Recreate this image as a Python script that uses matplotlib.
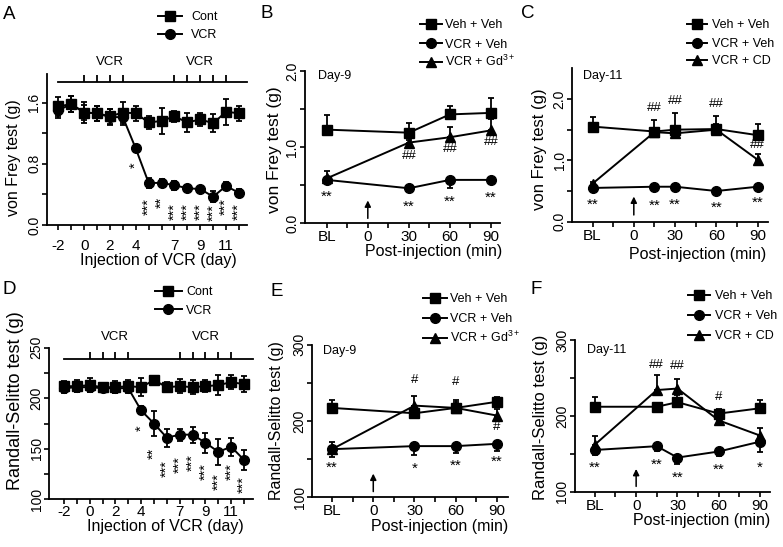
import matplotlib
matplotlib.use('Agg')
import matplotlib.pyplot as plt
from matplotlib.lines import Line2D

plt.rcParams['font.family'] = ['Liberation Sans', 'DejaVu Sans']
plt.rcParams['mathtext.fontset'] = 'custom'
plt.rcParams['mathtext.rm'] = 'Liberation Sans'
plt.rcParams['mathtext.it'] = 'Liberation Sans:italic'
plt.rcParams['mathtext.bf'] = 'Liberation Sans:bold'

# ---------------- data ----------------
days = [-2, -1, 0, 1, 2, 3, 4, 5, 6, 7, 8, 9, 10, 11, 12]
day_tick_labels = {-2: '-2', 0: '0', 2: '2', 4: '4', 7: '7', 9: '9', 11: '11'}
vcr_inject_days = [0, 1, 2, 3, 7, 8, 9, 10, 11]

a_cont = [1.55, 1.58, 1.47, 1.46, 1.42, 1.47, 1.46, 1.34, 1.36, 1.42, 1.34, 1.38, 1.33, 1.48, 1.46]
a_cont_err = [0.12, 0.10, 0.14, 0.10, 0.10, 0.14, 0.10, 0.08, 0.17, 0.07, 0.12, 0.08, 0.12, 0.17, 0.10]
a_vcr = [1.50, 1.58, 1.47, 1.46, 1.41, 1.41, 1.00, 0.55, 0.55, 0.52, 0.48, 0.47, 0.37, 0.51, 0.42]
a_vcr_err = [0.10, 0.10, 0.10, 0.10, 0.10, 0.10, 0.05, 0.06, 0.05, 0.06, 0.04, 0.03, 0.07, 0.05, 0.05]
a_stars = ['', '', '', '', '', '', '*', '***', '**', '***', '***', '***', '***', '***', '***']
a_star_y = [0, 0, 0, 0, 0, 0, 0.78, 0.24, 0.30, 0.17, 0.17, 0.17, 0.16, 0.24, 0.17]

d_cont = [212, 212, 213, 211, 211, 212, 211, 218, 211, 212, 211, 212, 213, 216, 214]
d_cont_err = [5, 6, 7, 4, 6, 6, 9, 4, 5, 7, 7, 6, 10, 7, 8]
d_vcr = [210, 211, 211, 210, 210, 210, 188, 175, 161, 164, 164, 156, 147, 152, 139]
d_vcr_err = [5, 5, 5, 4, 5, 5, 4, 12, 9, 6, 8, 10, 13, 9, 10]
d_stars = ['', '', '', '', '', '', '*', '**', '***', '***', '***', '***', '***', '***', '***']
d_star_y = [0, 0, 0, 0, 0, 0, 170, 145, 130, 134, 136, 127, 118, 127, 115]

time_ticks = [-30, 0, 30, 60, 90]
time_tick_labels = ['BL', '0', '30', '60', '90']

b_time = [-30, 30, 60, 90]
b_veh = [1.23, 1.19, 1.43, 1.45]
b_veh_err = [0.19, 0.13, 0.11, 0.20]
b_vcr = [0.57, 0.46, 0.57, 0.57]
b_vcr_err = [0.03, 0.02, 0.10, 0.02]
b_gd = [0.59, 1.06, 1.13, 1.22]
b_gd_err = [0.10, 0.04, 0.13, 0.15]
b_stars = ['**', '**', '**', '**']
b_star_y = [0.35, 0.22, 0.28, 0.33]
b_hash_time = [30, 60, 90]
b_hash = ['##', '##', '##']
b_hash_y = [0.89, 0.97, 1.07]

c_time = [-30, 15, 30, 60, 90]
c_veh = [1.55, 1.47, 1.50, 1.51, 1.41]
c_veh_err = [0.16, 0.18, 0.27, 0.22, 0.19]
c_vcr = [0.55, 0.57, 0.57, 0.50, 0.57]
c_vcr_err = [0.02, 0.02, 0.02, 0.02, 0.02]
c_cd = [0.62, 1.46, 1.44, 1.50, 1.01]
c_cd_err = [0.03, 0.05, 0.05, 0.10, 0.10]
c_stars = ['**', '**', '**', '**', '**']
c_star_y = [0.27, 0.26, 0.27, 0.22, 0.31]
c_hash_time = [15, 30, 60, 90]
c_hash = ['##', '##', '##', '##']
c_hash_y = [1.85, 1.96, 1.92, 1.25]

e_time = [-30, 30, 60, 90]
e_veh = [217, 210, 217, 225]
e_veh_err = [11, 10, 10, 6]
e_vcr = [163, 167, 167, 170]
e_vcr_err = [10, 12, 9, 9]
e_gd = [163, 220, 217, 207]
e_gd_err = [10, 12, 8, 9]
e_stars = ['**', '*', '**', '**']
e_star_y = [138, 137, 141, 147]
e_hash_time = [30, 60, 90]
e_hash = ['#', '#', '#']
e_hash_y = [254, 251, 192]

f_time = [-30, 15, 30, 60, 90]
f_veh = [212, 212, 218, 203, 210]
f_veh_err = [13, 5, 10, 6, 11]
f_vcr = [155, 160, 145, 153, 166]
f_vcr_err = [6, 6, 9, 6, 14]
f_cd = [162, 234, 236, 194, 174]
f_cd_err = [11, 20, 12, 5, 10]
f_stars = ['**', '**', '**', '**', '*']
f_star_y = [131, 135, 119, 129, 132]
f_hash_time = [15, 30, 60]
f_hash = ['##', '##', '#']
f_hash_y = [267, 266, 225]

# ---------------- figure ----------------
W, H = 783, 547
fig = plt.figure(figsize=(W / 100, H / 100), dpi=100)
K = 'black'


def add_ax(l, r, t, b):
    return fig.add_axes([l / W, 1 - b / H, (r - l) / W, (b - t) / H])


def fx(x):
    return x / W


def fy(y):
    return 1 - y / H


def ftext(x, y, s, **kw):
    fig.text(fx(x), fy(y), s, **kw)


def style(ax, yticks, ylabels, xticks, xlabels, xpad=1.5):
    for s in ['top', 'right']:
        ax.spines[s].set_visible(False)
    for s in ['left', 'bottom']:
        ax.spines[s].set_linewidth(1.3)
    ax.tick_params(direction='out', length=3.5, width=1.2)
    ax.tick_params(axis='x', labelsize=11, pad=xpad)
    ax.tick_params(axis='y', labelsize=10, pad=0.5)
    ax.set_yticks(yticks)
    ax.set_yticklabels(ylabels, rotation=90, va='center')
    ax.set_xticks(xticks)
    ax.set_xticklabels(xlabels)


def series(ax, x, y, err, marker, ms, lower=True, upper=True):
    lo = [e if lower else 0 for e in err]
    up = [e if upper else 0 for e in err]
    ax.errorbar(x, y, yerr=[lo, up], color=K, marker=marker, ms=ms, lw=1.4,
                elinewidth=1.3, capsize=2.5, capthick=1.3, zorder=3, clip_on=False)


def legend(x0, x1, xt, rows, markers, labels):
    for y, m, lab in zip(rows, markers, labels):
        fig.add_artist(Line2D([fx(x0), fx(x1)], [fy(y), fy(y)], color=K, lw=1.4,
                              transform=fig.transFigure))
        fig.add_artist(Line2D([fx((x0 + x1) / 2)], [fy(y)], color=K, marker=m, lw=0,
                              ms=7 if m != '^' else 7.5, transform=fig.transFigure))
        ftext(xt, y + 4.2, lab, ha='left', va='baseline', fontsize=9)


def arrow(ax, base, tip):
    ax.annotate('', xy=(0, tip), xytext=(0, base),
                arrowprops=dict(arrowstyle='-|>', color=K, lw=1.1, mutation_scale=9,
                                shrinkA=0, shrinkB=0))


def marks(ax, xs, ys, labels, size, rot=0):
    for x, y, s in zip(xs, ys, labels):
        if s:
            ax.text(x, y, s, ha='center', va='center', fontsize=size, rotation=rot, clip_on=False)


all_time_ticks = [-30, -15, 0, 15, 30, 45, 60, 75, 90]
all_time_labels = [dict(zip(time_ticks, time_tick_labels)).get(t, '') for t in all_time_ticks]
day_labels = [day_tick_labels.get(d, '') for d in days]

# ---------------- Panel A ----------------
axA = add_ax(46.7, 247, 73.5, 225)
series(axA, days, a_cont, a_cont_err, 's', 7)
series(axA, days, a_vcr, a_vcr_err, 'o', 7)
axA.set_xlim(-2.9, 12.62)
axA.set_ylim(0, 1.98)
style(axA, [0, 0.4, 0.8, 1.2, 1.6], ['0.0', '', '0.8', '', '1.6'], days, day_labels, xpad=6.5)
marks(axA, days, a_star_y, a_stars, 10.5, rot=90)
axA.plot([-2, 12.62], [1.87, 1.87], color=K, lw=1.3, clip_on=False)
axA.vlines(vcr_inject_days, 1.87, 1.96, color=K, lw=1.3, clip_on=False)
axA.text(2, 2.13, 'VCR', ha='center', va='center', fontsize=9.5, clip_on=False)
axA.text(9, 2.13, 'VCR', ha='center', va='center', fontsize=9.5, clip_on=False)
ftext(158.5, 261, 'Injection of VCR (day)', ha='center', va='center', fontsize=11.5)
ftext(14, 157.5, 'von Frey test (g)', ha='center', va='center', rotation=90, fontsize=11.5)
legend(158, 182, 191, [16, 34], ['s', 'o'], ['Cont', 'VCR'])

# ---------------- Panel B ----------------
axB = add_ax(305, 500, 71, 223.3)
series(axB, b_time, b_veh, b_veh_err, 's', 7, lower=False)
series(axB, b_time, b_vcr, b_vcr_err, 'o', 7, upper=False)
series(axB, b_time, b_gd, b_gd_err, '^', 7.5, lower=False)
axB.set_xlim(-45.9, 96.6)
axB.set_ylim(0, 2.0)
style(axB, [0, 0.5, 1.0, 1.5, 2.0], ['0.0', '', '1.0', '', '2.0'], all_time_ticks, all_time_labels)
marks(axB, b_time, b_star_y, b_stars, 11)
marks(axB, b_hash_time, b_hash_y, b_hash, 9.5)
arrow(axB, 0.065, 0.30)
ftext(318, 76, 'Day-9', ha='left', va='center', fontsize=9)
ftext(434, 251, 'Post-injection (min)', ha='center', va='center', fontsize=11.5)
ftext(274.3, 150, 'von Frey test (g)', ha='center', va='center', rotation=90, fontsize=12.5)
legend(420, 442, 445, [24, 43.3, 61.7], ['s', 'o', '^'], ['Veh + Veh', 'VCR + Veh', r'VCR + Gd$^{3+}$'])

# ---------------- Panel C ----------------
axC = add_ax(572.3, 768, 68.3, 221.7)
series(axC, c_time, c_veh, c_veh_err, 's', 7, lower=False)
series(axC, c_time, c_vcr, c_vcr_err, 'o', 7, upper=False)
series(axC, c_time, c_cd, c_cd_err, '^', 7.5, lower=False)
axC.set_xlim(-44.7, 97.5)
axC.set_ylim(0, 2.5)
style(axC, [0, 0.5, 1.0, 1.5, 2.0], ['0.0', '', '1.0', '', '2.0'], all_time_ticks, all_time_labels)
marks(axC, c_time, c_star_y, c_stars, 11)
marks(axC, c_hash_time, c_hash_y, c_hash, 9.5)
arrow(axC, 0.11, 0.41)
ftext(583, 76, 'Day-11', ha='left', va='center', fontsize=9)
ftext(698, 254.5, 'Post-injection (min)', ha='center', va='center', fontsize=11.5)
ftext(539.5, 149, 'von Frey test (g)', ha='center', va='center', rotation=90, fontsize=12)
legend(686.7, 706.7, 711.7, [24, 42.7, 60], ['s', 'o', '^'], ['Veh + Veh', 'VCR + Veh', 'VCR + CD'])

# ---------------- Panel D ----------------
axD = add_ax(49.3, 253.3, 347.8, 499.3)
series(axD, days, d_cont, d_cont_err, 's', 7)
series(axD, days, d_vcr, d_vcr_err, 'o', 7)
axD.set_xlim(-3.14, 12.72)
axD.set_ylim(100, 250)
style(axD, [100, 125, 150, 175, 200, 225, 250], ['100', '', '150', '', '200', '', '250'], days, day_labels, xpad=0.5)
marks(axD, days, d_star_y, d_stars, 10.5, rot=90)
axD.plot([-2, 12.72], [239, 239], color=K, lw=1.3, clip_on=False)
axD.vlines(vcr_inject_days, 239, 246, color=K, lw=1.3, clip_on=False)
axD.text(2, 261, 'VCR', ha='center', va='center', fontsize=9.5, clip_on=False)
axD.text(9, 261, 'VCR', ha='center', va='center', fontsize=9.5, clip_on=False)
ftext(165.5, 526, 'Injection of VCR (day)', ha='center', va='center', fontsize=11.5)
ftext(15.5, 401, 'Randall-Selitto test (g)', ha='center', va='center', rotation=90, fontsize=13)
legend(155, 181.7, 186, [290.7, 309.3], ['s', 'o'], ['Cont', 'VCR'])

# ---------------- Panel E ----------------
axE = add_ax(312.3, 508, 344.5, 497.3)
series(axE, e_time, e_veh, e_veh_err, 's', 7, lower=False)
series(axE, e_time, e_vcr, e_vcr_err, 'o', 7, upper=False)
series(axE, e_time, e_gd, e_gd_err, '^', 7.5, lower=False)
axE.set_xlim(-44.4, 98.1)
axE.set_ylim(100, 300)
style(axE, [100, 150, 200, 250, 300], ['100', '', '200', '', '300'], all_time_ticks, all_time_labels)
marks(axE, e_time, e_star_y, e_stars, 11)
marks(axE, e_hash_time, e_hash_y, e_hash, 9.5)
arrow(axE, 107.5, 131)
ftext(323, 351, 'Day-9', ha='left', va='center', fontsize=9)
ftext(440, 526, 'Post-injection (min)', ha='center', va='center', fontsize=11.5)
ftext(276.7, 421, 'Randall-Selitto test (g)', ha='center', va='center', rotation=90, fontsize=11.5)
legend(423.3, 446.7, 450, [298.3, 318.3, 338.3], ['s', 'o', '^'], ['Veh + Veh', 'VCR + Veh', r'VCR + Gd$^{3+}$'])

# ---------------- Panel F ----------------
axF = add_ax(575, 770, 340, 491.7)
series(axF, f_time, f_veh, f_veh_err, 's', 7, lower=False)
series(axF, f_time, f_vcr, f_vcr_err, 'o', 7, upper=False)
series(axF, f_time, f_cd, f_cd_err, '^', 7.5, lower=False)
axF.set_xlim(-44.4, 97.2)
axF.set_ylim(100, 300)
style(axF, [100, 150, 200, 250, 300], ['100', '', '200', '', '300'], all_time_ticks, all_time_labels)
marks(axF, f_time, f_star_y, f_stars, 11)
marks(axF, f_hash_time, f_hash_y, f_hash, 9.5)
arrow(axF, 107, 130)
ftext(587, 350, 'Day-11', ha='left', va='center', fontsize=9)
ftext(701.5, 520, 'Post-injection (min)', ha='center', va='center', fontsize=11.5)
ftext(540.5, 417.5, 'Randall-Selitto test (g)', ha='center', va='center', rotation=90, fontsize=12)
legend(688.3, 710, 715, [295, 315, 335], ['s', 'o', '^'], ['Veh + Veh', 'VCR + Veh', 'VCR + CD'])

# ---------------- panel letters ----------------
for (x, y, s) in [(3, 14.5, 'A'), (260, 13.5, 'B'), (521.5, 13.5, 'C'),
                  (3, 290, 'D'), (270, 291.5, 'E'), (530, 290, 'F')]:
    ftext(x, y, s, ha='left', va='center', fontsize=13.5)

fig.savefig('out.png', dpi=100)
